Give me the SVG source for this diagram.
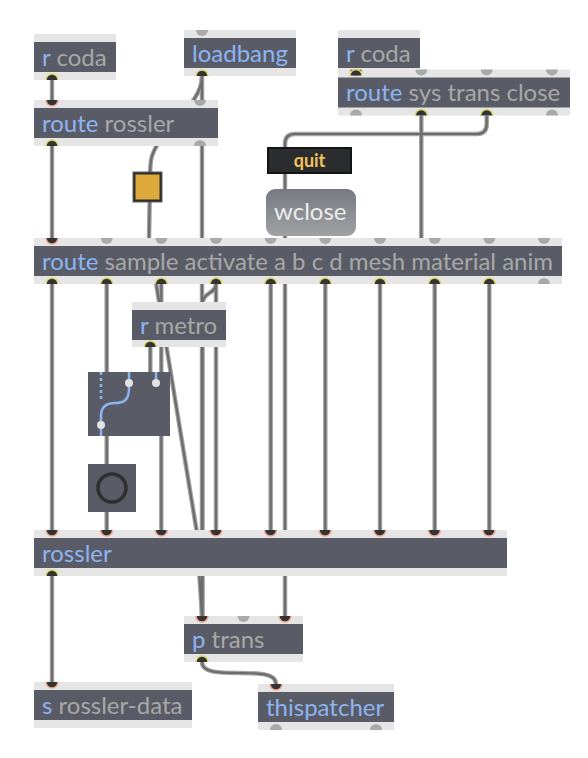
<svg xmlns="http://www.w3.org/2000/svg" width="588" height="758" viewBox="0 0 588 758">
<defs>
<style>
.strip{fill:#e5e5e5}
.body{fill:#595c66}
.t{font-family:Lato,'Open Sans',sans-serif;font-size:24px}
.k{fill:#8db4f2}
.a{fill:#a8a8a8}
.pin{fill:#333;stroke:#f2a58f;stroke-width:1.5}
.pout{fill:#333;stroke:#d8d86c;stroke-width:1.5}
.pg{fill:#a9a9a9}
.co{fill:none;stroke:#a3a3a3;stroke-width:4.5}
.ci{fill:none;stroke:#6c6c6c;stroke-width:2.2}
.blue{fill:none;stroke:#8db4f2;stroke-width:2.5}
.dot{fill:#e2e2e2}
</style>
<linearGradient id="wg" x1="0" y1="0" x2="0" y2="1">
<stop offset="0" stop-color="#767980"/>
<stop offset="1" stop-color="#9fa1a5"/>
</linearGradient>
<path id="inC" class="pin" d="M-6,0A6,6 0 0 0 6,0"/>
<path id="inG" class="pg" d="M-6,0A6,6 0 0 0 6,0Z"/>
<path id="outC" class="pout" d="M-6,0A6,6 0 0 1 6,0"/>
<path id="outG" class="pg" d="M-6,0A6,6 0 0 1 6,0Z"/>
<path id="c1" d="M52,80V100"/>
<path id="c2" d="M202,76V616"/>
<path id="c3" d="M202,76C202,106 163,124 152,156C150,162 150,170 150,180L149,240L196.5,530L202,616"/>
<path id="c4" d="M216,284C216,294 202.5,292 202.5,304V616"/>
<path id="c5" d="M52,146V238"/>
<path id="c6" d="M421.3,115.5V262"/>
<path id="c7" d="M486.7,115.5V124Q486.7,134 476.7,134H295Q285,134 285,144V616"/>
<path id="c8" d="M52,284V530"/>
<path id="c9" d="M106.7,284V530"/>
<path id="c10" d="M161.3,284V530"/>
<path id="c11" d="M216,284V530"/>
<path id="c12" d="M270.7,284V530"/>
<path id="c13" d="M325.3,284V530"/>
<path id="c14" d="M380,284V530"/>
<path id="c15" d="M434.7,284V530"/>
<path id="c16" d="M489.3,284V530"/>
<path id="c17" d="M150.3,347V372"/>
<path id="c18" d="M52,576V682"/>
<path id="c19" d="M202,662C202,684 276,662 276,684"/>
</defs>
<rect width="588" height="758" fill="#fff"/>
<g id="connectors">
<g class="co">
<use href="#c1"/><use href="#c2"/><use href="#c3"/><use href="#c4"/><use href="#c5"/><use href="#c6"/><use href="#c7"/><use href="#c8"/><use href="#c9"/><use href="#c10"/><use href="#c11"/><use href="#c12"/><use href="#c13"/><use href="#c14"/><use href="#c15"/><use href="#c16"/><use href="#c17"/><use href="#c18"/><use href="#c19"/>
</g>
<g class="ci">
<use href="#c1"/><use href="#c2"/><use href="#c3"/><use href="#c4"/><use href="#c5"/><use href="#c6"/><use href="#c7"/><use href="#c8"/><use href="#c9"/><use href="#c10"/><use href="#c11"/><use href="#c12"/><use href="#c13"/><use href="#c14"/><use href="#c15"/><use href="#c16"/><use href="#c17"/><use href="#c18"/><use href="#c19"/>
</g>
</g>
<g id="rcoda1">
<rect class="strip" x="34" y="34" width="82" height="46"/>
<rect class="body" x="34" y="42" width="82" height="30"/>
<text class="t" x="42" y="65.5"><tspan class="k">r</tspan> <tspan class="a">coda</tspan></text>
<use href="#outC" x="52" y="80"/>
</g>
<g id="loadbang">
<rect class="strip" x="184" y="30" width="112" height="46"/>
<rect class="body" x="184" y="38" width="112" height="30"/>
<text class="t k" x="192" y="61.5">loadbang</text>
<use href="#inG" x="202" y="30"/>
<use href="#outC" x="202" y="76"/>
</g>
<g id="routesys">
<rect class="strip" x="338" y="69.5" width="232" height="46"/>
<rect class="body" x="338" y="77.5" width="232" height="30"/>
<text class="t" x="346" y="101"><tspan class="k">route</tspan> <tspan class="a">sys trans close</tspan></text>
<use href="#inC" x="356" y="69.5"/>
<use href="#inG" x="421.3" y="69.5"/>
<use href="#inG" x="486.7" y="69.5"/>
<use href="#inG" x="552" y="69.5"/>
<use href="#outG" x="356" y="115.5"/>
<use href="#outC" x="421.3" y="115.5"/>
<use href="#outC" x="486.7" y="115.5"/>
<use href="#outG" x="552" y="115.5"/>
</g>
<g id="rcoda2">
<rect class="strip" x="338" y="30" width="82" height="39.5"/>
<rect class="body" x="338" y="38" width="82" height="30"/>
<text class="t" x="346" y="61.5"><tspan class="k">r</tspan> <tspan class="a">coda</tspan></text>
<use href="#outC" x="356" y="75.5"/>
</g>
<g id="routerossler">
<rect class="strip" x="34" y="100" width="184" height="46"/>
<rect class="body" x="34" y="108" width="184" height="30"/>
<text class="t" x="42" y="131.5"><tspan class="k">route</tspan> <tspan class="a">rossler</tspan></text>
<use href="#inC" x="52" y="100"/>
<use href="#inG" x="200" y="100"/>
<use href="#outC" x="52" y="146"/>
<use href="#outG" x="200" y="146"/>
</g>
<g id="toggle">
<rect x="133" y="172" width="29" height="30" fill="#2d2d2d" stroke="#5c5c5c" stroke-width="1"/>
<rect x="135.5" y="174.5" width="24" height="25" fill="#dca93a"/>
</g>
<g id="quit">
<rect x="268" y="148" width="83" height="25" fill="#2b2c2e" stroke="#141414" stroke-width="2"/>
<text x="309.5" y="166.5" text-anchor="middle" font-family="Lato,'Open Sans',sans-serif" font-size="18" font-weight="bold" fill="#f3c35b">quit</text>
</g>
<g id="wclose">
<rect x="266" y="189" width="90" height="47" rx="9" fill="url(#wg)"/>
<text x="274" y="220" font-family="Lato,'Open Sans',sans-serif" font-size="24" fill="#ececec">wclose</text>
</g>
<g id="routesample">
<rect class="strip" x="34" y="238" width="528" height="46"/>
<rect class="body" x="34" y="246" width="528" height="30"/>
<text class="t" x="42" y="269.5"><tspan class="k">route</tspan> <tspan class="a">sample activate a b c d mesh material anim</tspan></text>
<use href="#inC" x="52" y="238"/>
<use href="#inG" x="106.7" y="238"/>
<use href="#inG" x="161.3" y="238"/>
<use href="#inG" x="216" y="238"/>
<use href="#inG" x="270.7" y="238"/>
<use href="#inG" x="325.3" y="238"/>
<use href="#inG" x="380" y="238"/>
<use href="#inG" x="434.7" y="238"/>
<use href="#inG" x="489.3" y="238"/>
<use href="#inG" x="544" y="238"/>
<use href="#outC" x="52" y="284"/>
<use href="#outC" x="106.7" y="284"/>
<use href="#outC" x="161.3" y="284"/>
<use href="#outC" x="216" y="284"/>
<use href="#outC" x="270.7" y="284"/>
<use href="#outC" x="325.3" y="284"/>
<use href="#outC" x="380" y="284"/>
<use href="#outC" x="434.7" y="284"/>
<use href="#outC" x="489.3" y="284"/>
<use href="#outG" x="544" y="284"/>
</g>
<g id="rmetro">
<rect class="strip" x="132" y="302" width="94" height="45"/>
<rect class="body" x="132" y="310" width="94" height="30"/>
<text class="t" x="140" y="333.5"><tspan class="k">r</tspan> <tspan class="a">metro</tspan></text>
<use href="#outC" x="150.3" y="347"/>
</g>
<g id="gswitch">
<rect x="88" y="372" width="82" height="64" fill="#595c66"/>
<path class="blue" d="M101,372V401" stroke-dasharray="3 3"/>
<path class="blue" d="M129,372V388C129,400 124,403 115,403C106,403 101,407 101,416V436"/>
<path class="blue" d="M156,372V383"/>
<circle class="dot" cx="129" cy="383" r="4"/>
<circle class="dot" cx="156" cy="383" r="4"/>
<circle class="dot" cx="101" cy="425" r="4"/>
</g>
<g id="button">
<rect x="88" y="464" width="48" height="48" fill="#595c66"/>
<circle cx="112" cy="488" r="14" fill="none" stroke="#2f2f2f" stroke-width="3.5"/>
</g>
<g id="rossler">
<rect class="strip" x="34" y="530" width="473" height="46"/>
<rect class="body" x="34" y="538" width="473" height="30"/>
<text class="t k" x="42" y="561.5">rossler</text>
<use href="#inC" x="52" y="530"/>
<use href="#inC" x="106.6" y="530"/>
<use href="#inC" x="161.3" y="530"/>
<use href="#inC" x="215.9" y="530"/>
<use href="#inC" x="270.5" y="530"/>
<use href="#inC" x="325.1" y="530"/>
<use href="#inC" x="379.8" y="530"/>
<use href="#inC" x="434.4" y="530"/>
<use href="#inC" x="489" y="530"/>
<use href="#outC" x="52" y="576"/>
</g>
<g id="ptrans">
<rect class="strip" x="184" y="616" width="119" height="46"/>
<rect class="body" x="184" y="624" width="119" height="30"/>
<text class="t" x="192" y="647.5"><tspan class="k">p</tspan> <tspan class="a">trans</tspan></text>
<use href="#inC" x="202" y="616"/>
<use href="#inG" x="243.5" y="616"/>
<use href="#inC" x="285" y="616"/>
<use href="#outC" x="202" y="662"/>
</g>
<g id="srosslerdata">
<rect class="strip" x="34" y="682" width="158" height="46"/>
<rect class="body" x="34" y="690" width="158" height="30"/>
<text class="t" x="42" y="713.5"><tspan class="k">s</tspan> <tspan class="a">rossler-data</tspan></text>
<use href="#inC" x="52" y="682"/>
</g>
<g id="thispatcher">
<rect class="strip" x="258" y="684" width="136" height="46"/>
<rect class="body" x="258" y="692" width="136" height="30"/>
<text class="t k" x="266" y="715.5">thispatcher</text>
<use href="#inC" x="276" y="684"/>
<use href="#outG" x="276" y="730"/>
<use href="#outG" x="376" y="730"/>
</g>
</svg>
